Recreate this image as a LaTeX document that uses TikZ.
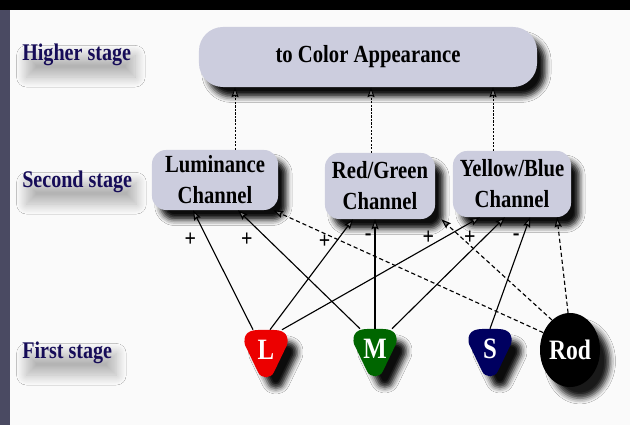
\documentclass[tikz,border=0pt]{standalone}
\usepackage{fontspec}
\setmainfont{Liberation Serif}[FakeStretch=0.84]
\usetikzlibrary{shapes.geometric,arrows.meta,shadows.blur}
\definecolor{stagecol}{RGB}{22,12,88}
\definecolor{boxcol}{RGB}{204,205,222}
\definecolor{panelcol}{RGB}{250,250,250}
\definecolor{framecol}{RGB}{74,74,98}
\definecolor{lcol}{RGB}{236,0,0}
\definecolor{mcol}{RGB}{0,102,0}
\definecolor{scol}{RGB}{0,0,96}
\begin{document}
\begin{tikzpicture}[x=0.025cm,y=-0.025cm,
  stage/.style={font=\fontsize{17}{20}\selectfont\bfseries,text=stagecol,anchor=west,inner sep=0pt,
    blur shadow={shadow xshift=3pt,shadow yshift=-8pt,shadow opacity=28,shadow blur radius=7pt,shadow blur steps=20}},
  chan/.style={rounded corners=10pt,fill=boxcol,align=center,inner sep=1pt,
    font=\fontsize{17.5}{22}\selectfont\bfseries,
    blur shadow={shadow xshift=6pt,shadow yshift=-7pt,shadow opacity=95,shadow blur radius=4pt}},
  pick/.style={fill=#1,
    blur shadow={shadow xshift=7pt,shadow yshift=-8pt,shadow opacity=95,shadow blur radius=4pt}},
  cone/.style={minimum width=1.1cm,minimum height=1cm,inner sep=0pt,text=white,
    font=\fontsize{21}{21}\selectfont\bfseries},
  sign/.style={font=\fontsize{17}{17}\selectfont\bfseries,inner sep=0pt},
  feed/.style={-{Stealth[length=7pt,width=5pt,inset=1pt]},line width=0.8pt},
  rodfeed/.style={feed,dash pattern=on 3pt off 2pt},
  up/.style={feed,line width=0.7pt,dash pattern=on 1.5pt off 1pt}]
  \fill[black](0,0)rectangle(630,425);
  \fill[framecol](0,10)rectangle(10,425);
  \fill[panelcol](10,10)rectangle(630,425);
  \node[stage](higher) at (22,55){Higher stage};
  \node[stage](second) at (22,182){Second stage};
  \node[stage](first) at (22,353){First stage};
  \node[chan,rounded corners=0.6cm,minimum width=8.45cm,minimum height=1.5cm](appear) at (368,57){to Color Appearance};
  \node[chan,minimum width=3.15cm,minimum height=1.5cm](lum) at (215,180){Luminance\\Channel};
  \node[chan,minimum width=2.75cm,minimum height=1.65cm](rg) at (380,186){Red/Green\\Channel};
  \node[chan,minimum width=2.95cm,minimum height=1.65cm](yb) at (512,184){Yellow/Blue\\Channel};
  \coordinate(Lc) at (266,350);
  \coordinate(Mc) at (375,349);
  \coordinate(Sc) at (490,349);
  \fill[pick=lcol,shift={(Lc)}](-8,-20)--(8,-20)..controls(20,-20)and(23,-13)..(21,-5)--(8,22)
    ..controls(5,29)and(-5,29)..(-8,22)--(-21,-5)..controls(-23,-13)and(-20,-20)..(-8,-20)--cycle;
  \fill[pick=mcol,shift={(Mc)}](-8,-20)--(8,-20)..controls(20,-20)and(23,-13)..(21,-5)--(8,22)
    ..controls(5,29)and(-5,29)..(-8,22)--(-21,-5)..controls(-23,-13)and(-20,-20)..(-8,-20)--cycle;
  \fill[pick=scol,shift={(Sc)}](-8,-20)--(8,-20)..controls(20,-20)and(23,-13)..(21,-5)--(8,22)
    ..controls(5,29)and(-5,29)..(-8,22)--(-21,-5)..controls(-23,-13)and(-20,-20)..(-8,-20)--cycle;
  \node[cone](L) at (Lc){L};
  \node[cone](M) at (Mc){M};
  \node[cone](S) at (Sc){S};
  \node[ellipse,fill=black,text=white,minimum width=1.5cm,minimum height=1.85cm,inner sep=0pt,
    font=\fontsize{20}{20}\selectfont\bfseries,
    blur shadow={shadow xshift=7pt,shadow yshift=-8pt,shadow opacity=90,shadow blur radius=4pt}](rod) at (570,350){Rod};
  \coordinate(lumtop) at ([xshift=0.5cm]lum.north);
  \coordinate(rgtop) at ([xshift=-0.225cm]rg.north);
  \coordinate(ybtop) at ([xshift=-0.475cm]yb.north);
  \draw[up](lumtop)--(lumtop|-appear.south);
  \draw[up](rgtop)--(rgtop|-appear.south);
  \draw[up](ybtop)--(ybtop|-appear.south);
  \draw[feed]([xshift=-0.325cm]L.north)--([xshift=-0.55cm]lum.south)node[sign,pos=0.75,left=8pt]{+};
  \draw[feed]([xshift=-0.375cm]M.north)--([xshift=0.575cm]lum.south)node[sign,pos=0.75,left=11pt]{+};
  \draw[feed]([xshift=0.1cm]L.north)--([xshift=-0.675cm]rg.south)node[sign,pos=0.8,left=4pt]{+};
  \draw[feed](M.north)--(M.north|-rg.south)node[sign,pos=0.84,left=2pt]{-};
  \draw[feed]([xshift=0.4cm]L.north)--([xshift=-0.8cm]yb.south)node[sign,pos=0.82,left=7pt]{+};
  \draw[feed]([xshift=0.425cm]M.north)--([xshift=-0.175cm]yb.south)node[sign,pos=0.82,left=6pt]{+};
  \draw[feed](S.north)--([xshift=0.45cm]yb.south)node[sign,pos=0.82,left=2pt]{-};
  \draw[rodfeed](rod.147)--([xshift=-0.125cm]lum.south east);
  \draw[rodfeed](rod.121)--([xshift=0.15cm]rg.south east);
  \draw[rodfeed](rod.93)--([xshift=1.125cm]yb.south);
\end{tikzpicture}
\end{document}
